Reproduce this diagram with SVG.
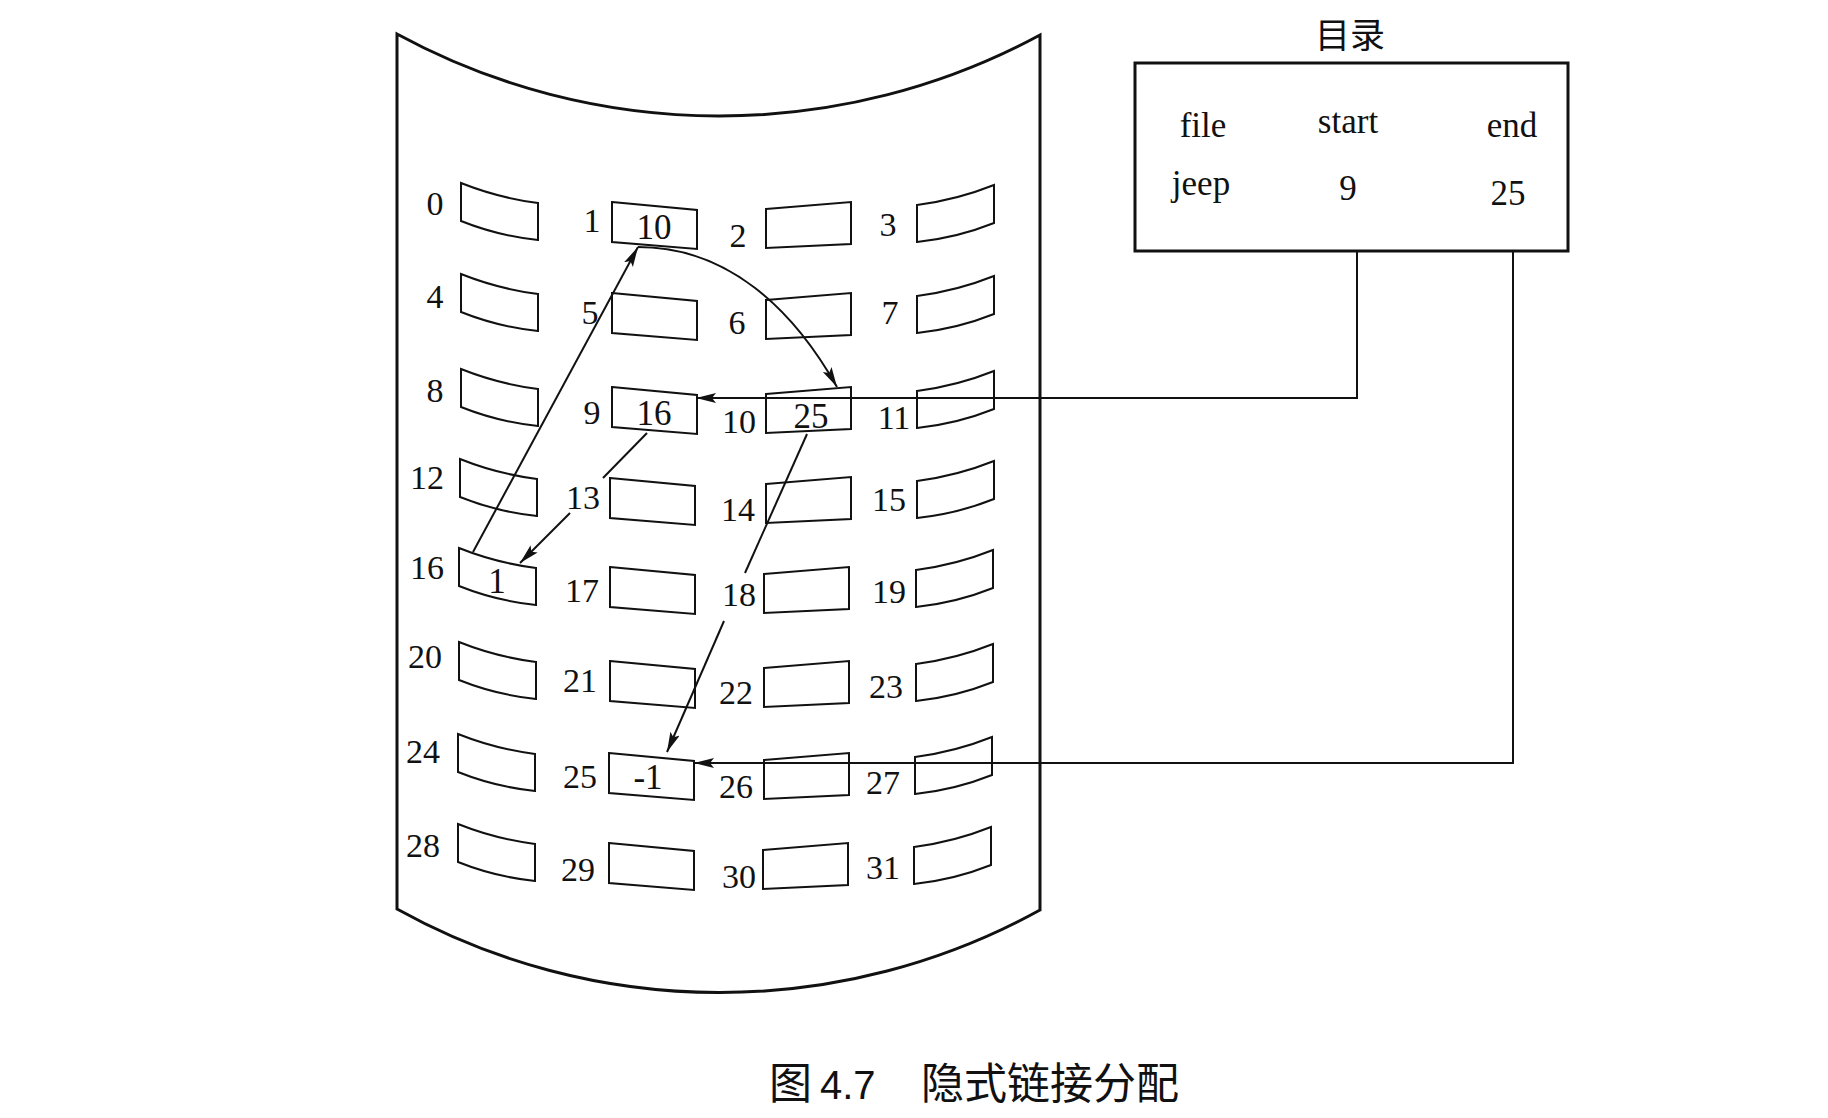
<svg xmlns="http://www.w3.org/2000/svg" width="1828" height="1118" viewBox="0 0 1828 1118">
<style>
.outline{fill:none;stroke:#111;stroke-width:3}
.cell{fill:none;stroke:#111;stroke-width:2}
.lbl{font-family:"Liberation Serif","Times New Roman",serif;font-size:34px;fill:#111;text-anchor:middle}
.val{font-family:"Liberation Serif","Times New Roman",serif;font-size:35px;fill:#111;text-anchor:middle}
.conn{fill:none;stroke:#111;stroke-width:2}
.cap{font-family:"Noto Sans CJK SC",sans-serif;font-size:43px;fill:#111}
.cjk{font-family:"Noto Sans CJK SC",sans-serif;font-size:35px;fill:#111;text-anchor:middle}
</style>
<defs>
<marker id="arr" markerUnits="userSpaceOnUse" markerWidth="24" markerHeight="12" refX="20" refY="5" orient="auto">
<path d="M0,0 L20,5 L0,10 L4,5 Z" fill="#111"/>
</marker>
<path id="c0" d="M0,0 Q37,14.8 77,20 L77,57 Q37,52.8 0,38 Z"/>
<path id="c1" d="M0,0 L85,8 L85,47 L0,40 Z"/>
<path id="c2" d="M0,7 L85,0 L85,42 L0,46 Z"/>
<path id="c3" d="M0,20 Q40,14.8 77,0 L77,38 Q40,52.8 0,57 Z"/>
</defs>
<rect width="1828" height="1118" fill="#fff"/>

<g id="disk">
<path class="outline" d="M397,34 A675,675 0 0 0 1040,35 L1040,910 A664,664 0 0 1 397,909 Z"/>
</g>

<g id="block-0"><use href="#c0" class="cell" x="461" y="183"/><text class="lbl" x="435" y="215">0</text></g>
<g id="block-1"><use href="#c1" class="cell" x="612" y="202"/><text class="lbl" x="592" y="232">1</text><text class="val" x="654" y="239">10</text></g>
<g id="block-2"><use href="#c2" class="cell" x="766" y="202"/><text class="lbl" x="738" y="247">2</text></g>
<g id="block-3"><use href="#c3" class="cell" x="917" y="185"/><text class="lbl" x="888" y="236">3</text></g>

<g id="block-4"><use href="#c0" class="cell" x="461" y="274"/><text class="lbl" x="435" y="308">4</text></g>
<g id="block-5"><use href="#c1" class="cell" x="612" y="293"/><text class="lbl" x="590" y="324">5</text></g>
<g id="block-6"><use href="#c2" class="cell" x="766" y="293"/><text class="lbl" x="737" y="334">6</text></g>
<g id="block-7"><use href="#c3" class="cell" x="917" y="276"/><text class="lbl" x="890" y="324">7</text></g>

<g id="block-8"><use href="#c0" class="cell" x="461" y="369"/><text class="lbl" x="435" y="402">8</text></g>
<g id="block-9"><use href="#c1" class="cell" x="612" y="387"/><text class="lbl" x="592" y="424">9</text><text class="val" x="654" y="425">16</text></g>
<g id="block-10"><use href="#c2" class="cell" x="766" y="387"/><text class="lbl" x="739" y="433">10</text><text class="val" x="811" y="428">25</text></g>
<g id="block-11"><use href="#c3" class="cell" x="917" y="371"/><text class="lbl" x="894" y="429">11</text></g>

<g id="block-12"><use href="#c0" class="cell" x="460" y="459"/><text class="lbl" x="427" y="489">12</text></g>
<g id="block-13"><use href="#c1" class="cell" x="610" y="478"/><text class="lbl" x="583" y="509">13</text></g>
<g id="block-14"><use href="#c2" class="cell" x="766" y="477"/><text class="lbl" x="738" y="521">14</text></g>
<g id="block-15"><use href="#c3" class="cell" x="917" y="461"/><text class="lbl" x="889" y="511">15</text></g>

<g id="block-16"><use href="#c0" class="cell" x="459" y="548"/><text class="lbl" x="427" y="579">16</text><text class="val" x="497" y="593">1</text></g>
<g id="block-17"><use href="#c1" class="cell" x="610" y="567"/><text class="lbl" x="582" y="602">17</text></g>
<g id="block-18"><use href="#c2" class="cell" x="764" y="567"/><text class="lbl" x="739" y="606">18</text></g>
<g id="block-19"><use href="#c3" class="cell" x="916" y="550"/><text class="lbl" x="889" y="603">19</text></g>

<g id="block-20"><use href="#c0" class="cell" x="459" y="642"/><text class="lbl" x="425" y="668">20</text></g>
<g id="block-21"><use href="#c1" class="cell" x="610" y="661"/><text class="lbl" x="580" y="692">21</text></g>
<g id="block-22"><use href="#c2" class="cell" x="764" y="661"/><text class="lbl" x="736" y="704">22</text></g>
<g id="block-23"><use href="#c3" class="cell" x="916" y="644"/><text class="lbl" x="886" y="698">23</text></g>

<g id="block-24"><use href="#c0" class="cell" x="458" y="734"/><text class="lbl" x="423" y="763">24</text></g>
<g id="block-25"><use href="#c1" class="cell" x="609" y="753"/><text class="lbl" x="580" y="788">25</text><text class="val" x="648" y="789">-1</text></g>
<g id="block-26"><use href="#c2" class="cell" x="764" y="753"/><text class="lbl" x="736" y="798">26</text></g>
<g id="block-27"><use href="#c3" class="cell" x="915" y="737"/><text class="lbl" x="883" y="794">27</text></g>

<g id="block-28"><use href="#c0" class="cell" x="458" y="824"/><text class="lbl" x="423" y="857">28</text></g>
<g id="block-29"><use href="#c1" class="cell" x="609" y="843"/><text class="lbl" x="578" y="881">29</text></g>
<g id="block-30"><use href="#c2" class="cell" x="763" y="843"/><text class="lbl" x="739" y="888">30</text></g>
<g id="block-31"><use href="#c3" class="cell" x="914" y="827"/><text class="lbl" x="883" y="879">31</text></g>

<g id="directory">
<text class="cjk" x="1350" y="48">目录</text>
<rect x="1135" y="63" width="433" height="188" fill="none" stroke="#111" stroke-width="3"/>
<text class="val" x="1203" y="137">file</text>
<text class="val" x="1348" y="133">start</text>
<text class="val" x="1512" y="137">end</text>
<text class="val" x="1201" y="195">jeep</text>
<text class="val" x="1348" y="200">9</text>
<text class="val" x="1508" y="205">25</text>
</g>

<g id="connectors">
<path class="conn" d="M473,552 L638,247" marker-end="url(#arr)"/>
<path class="conn" d="M638,247 C728,247 793,309 837,387" marker-end="url(#arr)"/>
<path class="conn" d="M647,433 L603,478"/>
<path class="conn" d="M570,513 L520,563" marker-end="url(#arr)"/>
<path class="conn" d="M807,434 L745,573"/>
<path class="conn" d="M724,621 L667,752" marker-end="url(#arr)"/>
<path class="conn" d="M1357,251 L1357,398 L696,398" marker-end="url(#arr)"/>
<path class="conn" d="M1513,251 L1513,763 L694,763" marker-end="url(#arr)"/>
</g>

<g id="caption">
<text class="cap" y="1099"><tspan x="769">图</tspan><tspan x="820" font-family="Liberation Sans" font-size="40">4.7</tspan><tspan x="921">隐式链接分配</tspan></text>
</g>
</svg>
